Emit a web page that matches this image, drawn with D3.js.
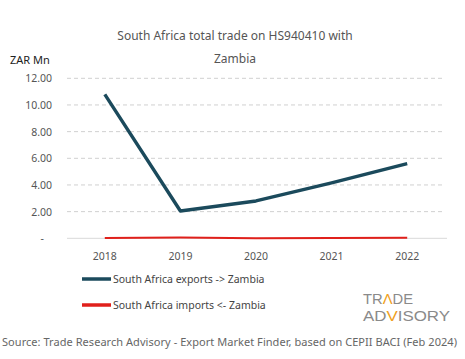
<!DOCTYPE html>
<html>
<head>
<meta charset="utf-8">
<script src="https://cdn.jsdelivr.net/npm/d3@7"></script>
<style>
  body { margin: 0; background: #fff; }
  text { font-family: "Noto Sans", "Open Sans", sans-serif; }
</style>
</head>
<body>
<script>
var years = ["2018", "2019", "2020", "2021", "2022"];
var exportsZar = [10.8, 2.05, 2.8, 4.15, 5.6];
var importsZar = [0.02, 0.06, 0.01, 0.02, 0.05];
var yTicks = [0, 2, 4, 6, 8, 10, 12];
var seriesNames = ["South Africa exports -> Zambia", "South Africa imports <- Zambia"];
var seriesColors = ["#1b4a5c", "#e0201b"];

var w = 465, h = 359;

var svg = d3.select("body")
  .append("svg")
  .attr("width", w)
  .attr("height", h);

var x = d3.scalePoint()
  .domain(years)
  .range([67, 445])
  .padding(0.5);

var y = d3.scaleLinear()
  .domain([0, 12])
  .range([238.3, 78.3]);

// title
svg.append("text")
  .attr("x", 235).attr("y", 40)
  .attr("text-anchor", "middle")
  .attr("font-size", 12)
  .attr("fill", "#555")
  .text("South Africa total trade on HS940410 with");
svg.append("text")
  .attr("x", 235).attr("y", 63)
  .attr("text-anchor", "middle")
  .attr("font-size", 12)
  .attr("fill", "#555")
  .text("Zambia");

svg.append("text")
  .attr("x", 10).attr("y", 64)
  .attr("font-size", 11)
  .attr("fill", "#222")
  .text("ZAR Mn");

// gridlines
svg.selectAll(".grid")
  .data(yTicks.filter(d => d > 0))
  .enter()
  .append("line")
  .attr("x1", 67).attr("x2", 445)
  .attr("y1", d => y(d)).attr("y2", d => y(d))
  .attr("stroke", "#d0d0d0")
  .attr("stroke-dasharray", "4,3");

svg.append("line")
  .attr("x1", 67).attr("x2", 447)
  .attr("y1", y(0)).attr("y2", y(0))
  .attr("stroke", "#d9d9d9");

svg.selectAll(".ylab")
  .data(yTicks)
  .enter()
  .append("text")
  .attr("x", d => d === 0 ? 44 : 52)
  .attr("y", d => y(d) + 4)
  .attr("text-anchor", "end")
  .attr("font-size", 10.5)
  .attr("fill", "#555")
  .text(d => d === 0 ? "-" : d.toFixed(2));

svg.selectAll(".xlab")
  .data(years)
  .enter()
  .append("text")
  .attr("x", d => x(d))
  .attr("y", 260)
  .attr("text-anchor", "middle")
  .attr("font-size", 10.5)
  .attr("fill", "#555")
  .text(d => d);

var line = d3.line()
  .x((d, i) => x(years[i]))
  .y(d => y(d));

[exportsZar, importsZar].forEach(function(vals, i) {
  svg.append("path")
    .attr("d", line(vals))
    .attr("fill", "none")
    .attr("stroke", seriesColors[i])
    .attr("stroke-width", i === 0 ? 3.4 : 2)
    .attr("stroke-linejoin", "round");
});

// legend
seriesNames.forEach(function(name, i) {
  var ly = 279 + i * 26;
  svg.append("line")
    .attr("x1", 82).attr("x2", 111)
    .attr("y1", ly).attr("y2", ly)
    .attr("stroke", seriesColors[i])
    .attr("stroke-width", 3.5);
  svg.append("text")
    .attr("x", 113).attr("y", ly + 4)
    .attr("font-size", 10.5)
    .attr("fill", "#444")
    .text(name);
});

// logo watermark
var logo = svg.append("g")
  .attr("fill", "#8a8a8a")
  .attr("font-size", 15);
var t1 = logo.append("text").attr("x", 363).attr("y", 304)
  .style("font-family", "'Liberation Sans', sans-serif")
  .attr("textLength", 50).attr("lengthAdjust", "spacingAndGlyphs");
t1.append("tspan").text("TR");
t1.append("tspan").attr("fill", "#f0a020").text("Λ");
t1.append("tspan").text("DE");
var t2 = logo.append("text").attr("x", 363).attr("y", 321)
  .style("font-family", "'Liberation Sans', sans-serif")
  .attr("textLength", 87).attr("lengthAdjust", "spacingAndGlyphs");
t2.append("tspan").text("AD");
t2.append("tspan").attr("fill", "#f0a020").text("V");
t2.append("tspan").text("ISORY");

svg.append("text")
  .attr("x", 2).attr("y", 346)
  .attr("font-size", 11)
  .attr("fill", "#666")
  .attr("textLength", 455)
  .text("Source: Trade Research Advisory - Export Market Finder, based on CEPII BACI (Feb 2024)");
</script>
</body>
</html>
